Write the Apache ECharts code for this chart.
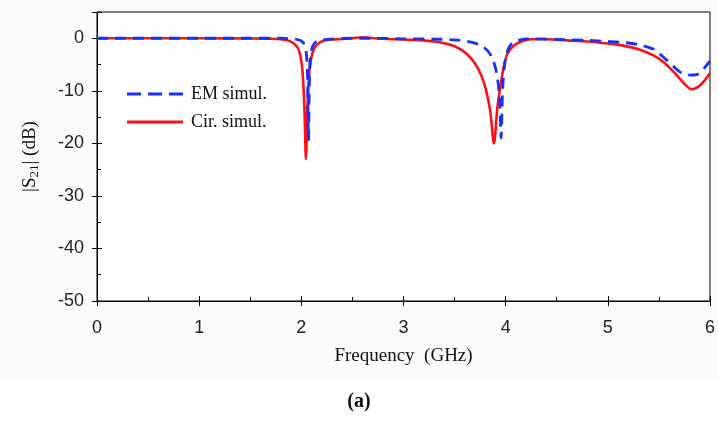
<!DOCTYPE html>
<html>
<head>
<meta charset="utf-8">
<script src="https://cdn.jsdelivr.net/npm/echarts@6/dist/echarts.min.js"></script>
<style>
html,body{margin:0;padding:0;background:#fff;}
#chart{width:718px;height:423px;}
</style>
</head>
<body>
<div id="chart"></div>
<script>
// Tick labels
var xTicks = [0, 1, 2, 3, 4, 5, 6];
var yTicks = [-50, -40, -30, -20, -10, 0];

// EM simulation (blue dashed)
var freqEM = [0, 1.0, 1.5, 1.8, 1.95, 2.0, 2.03, 2.05, 2.06, 2.07, 2.08, 2.09, 2.11, 2.15, 2.25, 2.5, 2.7, 3.0, 3.3, 3.5, 3.65, 3.75, 3.82, 3.87, 3.91, 3.94, 3.955, 3.97, 3.99, 4.02, 4.06, 4.12, 4.2, 4.5, 4.8, 5.0, 5.15, 5.3, 5.45, 5.55, 5.65, 5.72, 5.8, 5.87, 5.93, 6.0];
var dbEM   = [0, 0, 0, 0, -0.2, -0.5, -1.2, -3, -7, -19.5, -7, -3.5, -1.5, -0.6, -0.2, 0, 0, -0.1, -0.15, -0.3, -0.7, -1.3, -2.3, -3.8, -6.5, -11, -19, -10, -5, -2.3, -1, -0.4, -0.1, -0.2, -0.4, -0.6, -0.8, -1.2, -2.1, -3.7, -5.5, -6.6, -7, -6.9, -6, -4.3];

// Circuit simulation (red solid)
var freqCir = [0, 0.5, 1.0, 1.5, 1.7, 1.8, 1.88, 1.94, 1.98, 2.01, 2.03, 2.045, 2.06, 2.08, 2.1, 2.13, 2.18, 2.25, 2.35, 2.5, 2.6, 2.7, 2.9, 3.1, 3.3, 3.45, 3.55, 3.62, 3.7, 3.76, 3.81, 3.85, 3.885, 3.92, 3.95, 3.98, 4.01, 4.05, 4.1, 4.17, 4.25, 4.4, 4.6, 4.8, 5.0, 5.15, 5.3, 5.45, 5.55, 5.65, 5.75, 5.82, 5.88, 5.94, 6.0];
var dbCir   = [0, 0, 0, -0.05, -0.1, -0.2, -0.5, -1.2, -2.5, -6, -13, -23, -13, -6, -3.5, -1.8, -0.8, -0.3, -0.2, 0, 0.2, 0, -0.2, -0.3, -0.6, -1.2, -2, -3, -4.8, -7, -10, -14, -20, -13, -9, -5.5, -3.3, -2, -1.1, -0.5, -0.2, -0.2, -0.4, -0.6, -1, -1.4, -2.1, -3.3, -4.6, -6.5, -8.7, -9.7, -9.3, -8.2, -6.6];

function pairs(xs, ys) { return xs.map(function (x, i) { return [x, ys[i]]; }); }

var chart = echarts.init(document.getElementById('chart'), null, {renderer: 'canvas'});
var labelFont = {fontFamily: 'Liberation Sans, Arial, sans-serif', fontSize: 18, color: '#222'};
var serif = 'Liberation Serif, Times New Roman, serif';
var BLUE = '#1530ff', RED = '#ff1010';

var option = {
  backgroundColor: '#ffffff',
  animation: false,
  graphic: [
    {type: 'rect', z: -10, silent: true, shape: {x: 0, y: 0, width: 718, height: 378}, style: {fill: '#fcfcfc'}},
    {type: 'text', x: 359, y: 402, style: {text: '(a)', font: 'bold 20px ' + serif, fill: '#111', textAlign: 'center', textVerticalAlign: 'middle'}}
  ],
  grid: {left: 97, right: 2, top: 12, bottom: 122, show: true, borderColor: '#000', borderWidth: 1, backgroundColor: '#ffffff'},
  legend: {
    orient: 'vertical', left: 122, top: 80, itemWidth: 56, itemHeight: 3, itemGap: 10,
    data: [
      {name: 'EM simul.', icon: 'path://M0,0H14V3H0Z M21,0H35V3H21Z M42,0H56V3H42Z'},
      {name: 'Cir. simul.', icon: 'path://M0,0H56V3H0Z'}
    ],
    textStyle: {fontFamily: serif, fontSize: 18, color: '#111', padding: [0, 0, 0, 3]}
  },
  xAxis: [{
    type: 'value', min: 0, max: 6, interval: 1,
    name: 'Frequency  (GHz)', nameLocation: 'middle', nameGap: 46,
    nameTextStyle: {fontFamily: serif, fontSize: 19, color: '#111'},
    axisLine: {onZero: false, lineStyle: {color: '#000', width: 1}},
    axisTick: {inside: true, length: 5, lineStyle: {color: '#000'}},
    minorTick: {show: true, splitNumber: 2, length: 4, lineStyle: {color: '#000'}},
    axisLabel: Object.assign({margin: 18, formatter: function (v) { return xTicks.indexOf(v) >= 0 ? String(v) : ''; }}, labelFont),
    splitLine: {show: false}
  }, {
    type: 'value', min: 0, max: 6, interval: 1, position: 'bottom',
    axisLine: {show: false, onZero: false},
    axisTick: {inside: false, length: 5, lineStyle: {color: '#000'}},
    axisLabel: {show: false}, splitLine: {show: false}
  }],
  yAxis: [{
    type: 'value', min: -50, max: 5, interval: 10, position: 'left',
    name: '|S{sub|21}| (dB)', nameLocation: 'middle', nameGap: 56, nameRotate: 90,
    nameTextStyle: {fontFamily: serif, fontSize: 19, color: '#111',
      rich: {sub: {fontFamily: serif, fontSize: 13, color: '#111', verticalAlign: 'bottom', padding: [8, 0, 0, 0]}}},
    axisLine: {onZero: false, lineStyle: {color: '#000', width: 1}},
    axisTick: {inside: true, length: 5, lineStyle: {color: '#000'}},
    minorTick: {show: true, splitNumber: 2, length: 4, lineStyle: {color: '#000'}},
    axisLabel: Object.assign({margin: 13, formatter: function (v) { return yTicks.indexOf(v) >= 0 ? String(v) : ''; }}, labelFont),
    splitLine: {show: false}
  }, {
    type: 'value', min: -50, max: 5, interval: 10, position: 'left',
    axisLine: {show: false, onZero: false},
    axisTick: {inside: false, length: 5, lineStyle: {color: '#000'}},
    axisLabel: {show: false}, splitLine: {show: false}
  }],
  series: [{
    name: 'Cir. simul.', type: 'line', xAxisIndex: 0, yAxisIndex: 0,
    data: pairs(freqCir, dbCir), showSymbol: false, symbol: 'none', smooth: 0.3,
    lineStyle: {color: RED, width: 2.6}, itemStyle: {color: RED}, z: 2
  }, {
    name: 'EM simul.', type: 'line', xAxisIndex: 0, yAxisIndex: 0,
    data: pairs(freqEM, dbEM), showSymbol: false, symbol: 'none', smooth: 0.3,
    lineStyle: {color: BLUE, width: 2.8, type: [11, 7]}, itemStyle: {color: BLUE}, z: 3
  }]
};
chart.setOption(option);
</script>
</body>
</html>
